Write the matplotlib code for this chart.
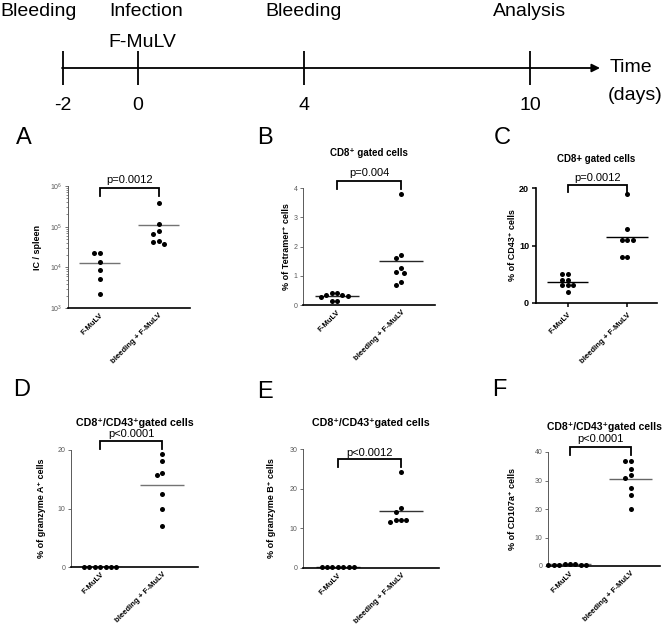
import matplotlib
matplotlib.use('Agg')
import matplotlib.pyplot as plt
import matplotlib.transforms as mtransforms
import numpy as np
from matplotlib.ticker import LogLocator, NullFormatter

plt.rcParams['font.family'] = ['Liberation Sans', 'DejaVu Sans']

W, H = 664, 627

# ---- data ----
days = ['-2', '0', '4', '10']
events = ['Bleeding', 'Infection', 'Bleeding', 'Analysis']
groups = ['F-MuLV', 'bleeding + F-MuLV']

ic_fmulv = [2.3e4, 2.3e4, 1.33e4, 8.8e3, 5.2e3, 2.2e3]
ic_bleed = [3.75e5, 1.14e5, 7.8e4, 6.5e4, 4.4e4, 3.8e4, 4.3e4]
tet_fmulv = [0.4, 0.33, 0.28, 0.35, 0.4, 0.3, 0.15, 0.15]
tet_bleed = [3.8, 1.72, 1.62, 1.25, 1.12, 1.1, 0.78, 0.7]
cd43_fmulv = [5.0, 5.0, 4.0, 4.0, 3.1, 3.1, 3.1, 1.9]
cd43_bleed = [19.0, 12.9, 10.9, 10.9, 10.9, 8.0, 8.0]
gzma_fmulv = [0.0, 0.0, 0.0, 0.0, 0.0, 0.0, 0.0]
gzma_bleed = [19.3, 18.1, 16.0, 15.7, 12.5, 10.0, 7.05]
gzmb_fmulv = [0.2, 0.2, 0.2, 0.2, 0.2, 0.2, 0.2]
gzmb_bleed = [24.1, 15.2, 14.2, 12.0, 11.6, 12.0, 12.0]
cd107_fmulv = [0.5, 0.6, 0.5, 0.5, 0.7, 0.6, 0.5, 0.5]
cd107_bleed = [37.0, 37.0, 34.1, 32.0, 30.9, 27.3, 24.9, 20.0]

p_values = ['p=0.0012', 'p=0.004', 'p=0.0012', 'p<0.0001', 'p<0.0012', 'p<0.0001']
titles = [None, 'CD8⁺ gated cells', 'CD8+ gated cells', 'CD8⁺/CD43⁺gated cells',
          'CD8⁺/CD43⁺gated cells', 'CD8⁺/CD43⁺gated cells']
ylabels = ['IC / spleen', '% of Tetramer⁺ cells', '% of CD43⁺ cells',
           '% of granzyme A⁺ cells', '% of granzyme B⁺ cells', '% of CD107a⁺ cells']
letters = ['A', 'B', 'C', 'D', 'E', 'F']

fig = plt.figure(figsize=(W / 100, H / 100), dpi=100)

# ---- timeline (pixel coordinates) ----
tl = fig.add_axes([0, 0, 1, 1])
tl.set_xlim(0, W)
tl.set_ylim(H, 0)
tl.axis('off')
tick_x = [63, 138, 304, 530]
tl.annotate('', xy=(600, 68), xytext=(62, 68),
            arrowprops=dict(arrowstyle='-|>', lw=1.3, color='k',
                            mutation_scale=12, shrinkA=0, shrinkB=0))
tl.vlines(tick_x, 51, 85, color='k', lw=1.3)
for x, d in zip(tick_x, days):
    tl.text(x, 110, d, ha='center', va='baseline', fontsize=14)
tl.text(0, 16, events[0], ha='left', va='baseline', fontsize=14)
for x, e in zip(tick_x[1:], events[1:]):
    tl.text(x + 8 if e == 'Infection' else x, 16, e, ha='center',
            va='baseline', fontsize=14)
tl.text(142, 47, 'F-MuLV', ha='center', va='baseline', fontsize=14)
tl.text(610, 68, 'Time', ha='left', va='center', fontsize=14)
tl.text(608, 96, '(days)', ha='left', va='center', fontsize=14)


def px_rect(l, t, r, b):
    return [l / W, 1 - b / H, (r - l) / W, (b - t) / H]


def swarm(ax, x0, vals, d=5.4):
    pts = ax.transData.transform(np.column_stack([np.full(len(vals), x0), vals]))
    order = np.argsort(-np.asarray(vals))
    placed = []
    xs = np.zeros(len(vals))
    cands = [0.0]
    for i in range(1, 30):
        cands += [-0.5 * i, 0.5 * i]
    for k in order:
        px, py = pts[k]
        for c in cands:
            cx = px + c * d
            if all(np.hypot(cx - qx, py - qy) >= d * 0.95 for qx, qy in placed):
                break
        placed.append((cx, py))
        xs[k] = cx
    back = ax.transData.inverted().transform(np.column_stack([xs, pts[:, 1]]))
    return back[:, 0]


panels = [
    dict(rect=(68, 186, 190, 308), data=(ic_fmulv, ic_bleed), ylim=(1e3, 1e6), log=True,
         xlim=(-0.54, 1.53), br=(0.984, 0.918, 1.049), ty=None, lab=(24, 138),
         ylx=-0.21, lc='0.45'),
    dict(rect=(303, 188, 435, 305), data=(tet_fmulv, tet_bleed), ylim=(0, 4),
         yticks=[0, 1, 2, 3, 4], xlim=(-0.53, 1.53), br=(1.06, 0.99, 1.128), ty=1.30,
         lab=(265, 138), ylx=-0.09, lc='0.15', tfs=7),
    dict(rect=(536, 188, 657, 303), data=(cd43_fmulv, cd43_bleed), ylim=(0, 20),
         yticks=[0, 10, 20], xlim=(-0.53, 1.5), br=(1.026, 0.965, 1.087), ty=1.25,
         lab=(502, 138), ylx=-0.16, lc='k', bold=True, tfs=7),
    dict(rect=(71, 450, 198, 567), data=(gzma_fmulv, gzma_bleed), ylim=(0, 20),
         yticks=[0, 10, 20], xlim=(-0.47, 1.58), br=(1.077, 1.009, 1.137), ty=1.23,
         lab=(22, 390), ylx=-0.20, lc='0.45', tfs=7.7),
    dict(rect=(303, 449, 439, 568), data=(gzmb_fmulv, gzmb_bleed), ylim=(0, 30),
         yticks=[0, 10, 20, 30], xlim=(-0.55, 1.6), br=(0.916, 0.849, 0.966), ty=1.22,
         lab=(265, 392), ylx=-0.20, lc='0.2', tfs=7.7),
    dict(rect=(548, 452, 660, 566), data=(cd107_fmulv, cd107_bleed), ylim=(0, 40),
         yticks=[0, 10, 20, 30, 40], xlim=(-0.36, 1.48), br=(1.044, 0.974, 1.11),
         ty=1.22, lab=(499, 390), ylx=-0.28, lc='0.4', tfs=7.5),
]

for i, p in enumerate(panels):
    ax = fig.add_axes(px_rect(*p['rect']))
    bold = p.get('bold', False)
    if p.get('log'):
        ax.set_yscale('log')
        ax.yaxis.set_major_locator(LogLocator(base=10, numticks=10))
        ax.yaxis.set_minor_locator(LogLocator(base=10, subs=np.arange(2, 10), numticks=10))
        ax.yaxis.set_minor_formatter(NullFormatter())
    else:
        ax.set_yticks(p['yticks'])
    ax.set_ylim(*p['ylim'])
    ax.set_xlim(*p['xlim'])
    for s in ['top', 'right']:
        ax.spines[s].set_visible(False)
    ax.spines['bottom'].set_linewidth(1.2)
    if bold:
        ax.spines['left'].set_linewidth(1.2)
        ax.tick_params(axis='y', labelsize=6.5, length=3, width=1.1, pad=2)
        for t in ax.get_yticklabels():
            t.set_fontweight('bold')
        ax.tick_params(axis='x', length=3, width=1.1)
    else:
        ax.spines['left'].set_color('0.35')
        ax.spines['left'].set_linewidth(0.7)
        ax.tick_params(axis='y', which='major', labelsize=5, colors='0.35',
                       length=2.5, width=0.6, pad=1.5)
        ax.tick_params(axis='y', which='minor', colors='0.35', length=1.3, width=0.5)
        ax.tick_params(axis='x', length=0)
    ax.set_xticks([0, 1])
    ax.set_xticklabels(groups, rotation=45, ha='right', rotation_mode='anchor',
                       fontsize=5.6, fontweight='bold')
    ax.tick_params(axis='x', pad=3)

    for g, vals in enumerate(p['data']):
        xs = swarm(ax, g, vals)
        ax.scatter(xs, vals, s=13, color='k', zorder=3, clip_on=False, linewidths=0)
        ax.hlines(np.mean(vals), g - 0.35, g + 0.35, color=p['lc'], lw=1.0, zorder=2)

    trans = mtransforms.blended_transform_factory(ax.transData, ax.transAxes)
    top, ends, ty = p['br']
    ax.plot([0, 0, 1, 1], [ends, top, top, ends], transform=trans, color='k',
            lw=1.3, clip_on=False, solid_joinstyle='miter')
    ax.text(0.5, ty, p_values[i], transform=trans, ha='center', va='center', fontsize=8)

    if titles[i]:
        ax.text(0.5, p['ty'], titles[i], transform=ax.transAxes, ha='center',
                va='center', fontsize=p['tfs'], fontweight='bold')
    ax.set_ylabel(ylabels[i], fontsize=6.5, fontweight='bold')
    ax.yaxis.set_label_coords(p['ylx'], 0.5)

    lx, ly = p['lab']
    tl.text(lx, ly, letters[i], ha='center', va='center', fontsize=17)

fig.savefig('out.png', dpi=100)
